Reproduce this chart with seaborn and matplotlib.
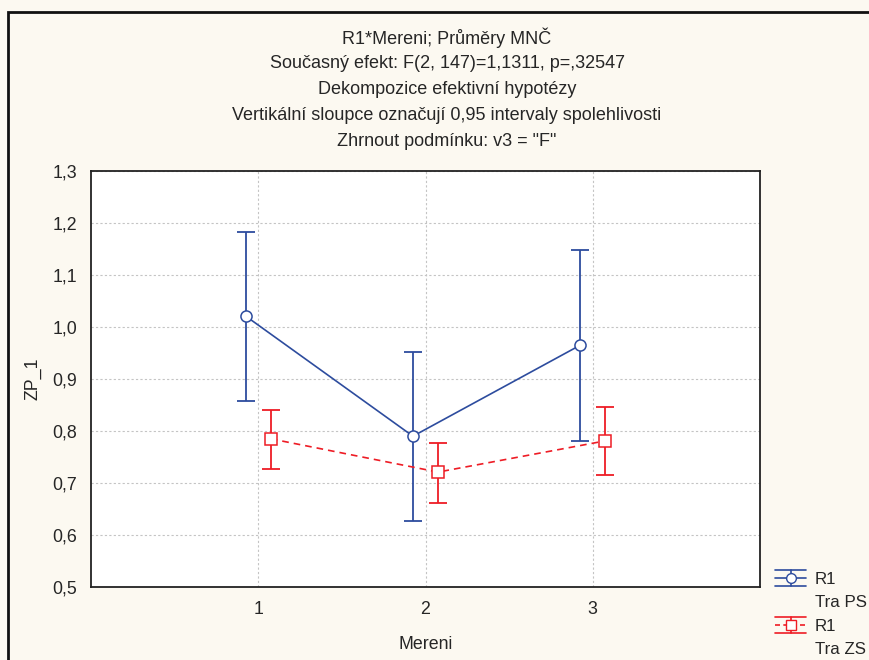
import matplotlib
matplotlib.use("Agg")
import matplotlib.pyplot as plt
import seaborn as sns
import pandas as pd
from matplotlib.patches import Rectangle
from matplotlib.lines import Line2D
from matplotlib.legend_handler import HandlerBase

# ---- data ----
mereni = [1, 2, 3]
groups = ["R1\nTra PS", "R1\nTra ZS"]
ps_mean = [1.021, 0.790, 0.965]
ps_low = [0.858, 0.627, 0.781]
ps_high = [1.183, 0.952, 1.148]
zs_mean = [0.785, 0.721, 0.781]
zs_low = [0.726, 0.661, 0.716]
zs_high = [0.841, 0.776, 0.846]
yticks = [0.5, 0.6, 0.7, 0.8, 0.9, 1.0, 1.1, 1.2, 1.3]
titles = ["R1*Mereni; Průměry MNČ",
          "Současný efekt: F(2, 147)=1,1311, p=,32547",
          "Dekompozice efektivní hypotézy",
          "Vertikální sloupce označují 0,95 intervaly spolehlivosti",
          "Zhrnout podmínku: v3 = \"F\""]

colors = {groups[0]: "#2D4C9E", groups[1]: "#EE1C25"}
offsets = {groups[0]: -0.075, groups[1]: 0.075}

rows = []
for g, m, lo, hi in [(groups[0], ps_mean, ps_low, ps_high),
                     (groups[1], zs_mean, zs_low, zs_high)]:
    for x, mv, l, h in zip(mereni, m, lo, hi):
        rows.append({"group": g, "Mereni": x + offsets[g], "mean": mv, "low": l, "high": h})
df = pd.DataFrame(rows)

sns.set_style("white")
plt.rcParams["font.family"] = ["Liberation Sans", "DejaVu Sans"]

bg = "#FCF9F1"
fig = plt.figure(figsize=(8.69, 6.60), dpi=100, facecolor=bg)
ax = fig.add_axes([91 / 869, 1 - 587 / 660, (760 - 91) / 869, (587 - 171) / 660])
ax.set_facecolor("white")

# error bars
for g in groups:
    sub = df[df.group == g]
    ax.errorbar(sub["Mereni"], sub["mean"],
                yerr=[sub["mean"] - sub["low"], sub["high"] - sub["mean"]],
                fmt="none", ecolor=colors[g], elinewidth=1.3, capsize=6.5,
                capthick=1.3, zorder=2)

sns.lineplot(data=df, x="Mereni", y="mean", hue="group", style="group",
             palette=colors, markers={groups[0]: "o", groups[1]: "s"},
             dashes={groups[0]: "", groups[1]: (4, 3)},
             markersize=8, markerfacecolor="white", linewidth=1.2,
             ax=ax, legend=False, zorder=3, sort=False)
for line in ax.lines:
    if line.get_marker() in ("o", "s"):
        line.set_markeredgecolor(line.get_color())
        line.set_markeredgewidth(1.1)


class ErrGlyph:
    def __init__(self, color, marker, dashed):
        self.color = color
        self.marker = marker
        self.dashed = dashed


class ErrGlyphHandler(HandlerBase):
    def create_artists(self, legend, orig, xd, yd, w, h, fs, trans):
        c = orig.color
        ym = yd + h / 2
        off = 5.5
        arts = []
        arts.append(Line2D([xd, xd + w], [ym + off, ym + off], color=c, lw=1.2, transform=trans))
        arts.append(Line2D([xd, xd + w], [ym - off, ym - off], color=c, lw=1.2, transform=trans))
        ls = (0, (3, 2)) if orig.dashed else "-"
        arts.append(Line2D([xd, xd + w], [ym, ym], color=c, lw=1.2, linestyle=ls, transform=trans))
        arts.append(Line2D([xd + w / 2, xd + w / 2], [ym - off, ym + off], color=c, lw=1.2,
                           transform=trans))
        arts.append(Line2D([xd + w / 2], [ym], color=c, marker=orig.marker, markersize=7,
                           markerfacecolor="white", markeredgecolor=c, linestyle="none",
                           transform=trans))
        return arts


class Blank:
    pass


class BlankHandler(HandlerBase):
    def create_artists(self, legend, orig, xd, yd, w, h, fs, trans):
        return [Line2D([], [], transform=trans, visible=False)]


g1 = ErrGlyph(colors[groups[0]], "o", False)
g2 = ErrGlyph(colors[groups[1]], "s", True)
b1, b2 = Blank(), Blank()
leg_labels = []
for g in groups:
    leg_labels.extend(g.split("\n"))
fig.legend([g1, b1, g2, b2], leg_labels, loc="upper left",
           bbox_to_anchor=(775 / 869, 1 - 572 / 660),
           handler_map={ErrGlyph: ErrGlyphHandler(), Blank: BlankHandler()},
           frameon=False, fontsize=12.2, handlelength=1.85, labelspacing=0.5,
           handletextpad=0.5, borderaxespad=0, borderpad=0)

ax.set_xlim(0, 4)
ax.set_ylim(0.5, 1.3)
ax.set_xticks(mereni)
ax.set_xticklabels([str(m) for m in mereni])
ax.set_yticks(yticks)
ax.set_yticklabels([f"{v:.1f}".replace(".", ",") for v in yticks])
ax.tick_params(axis="both", direction="in", length=4, labelsize=12.8, color="#222222",
               pad=10)
ax.grid(True, linestyle=(0, (2, 2)), color="#C4C4C4", linewidth=0.8)
for s in ax.spines.values():
    s.set_color("#222222")
    s.set_linewidth(1.3)
ax.set_xlabel("Mereni", fontsize=12.8, labelpad=13)
ax.set_ylabel("ZP_1", fontsize=12.8, labelpad=8)

for i, t in enumerate(titles):
    fig.text(447 / 869, 1 - (38 + i * 26) / 660, t, ha="center", va="center", fontsize=13)

fig.add_artist(Rectangle((8 / 869, -0.05), 1.2, 1 - 12 / 660 + 0.05,
                         transform=fig.transFigure, fill=False, edgecolor="#111111",
                         linewidth=2))

fig.savefig("out.png", dpi=100, facecolor=bg)
